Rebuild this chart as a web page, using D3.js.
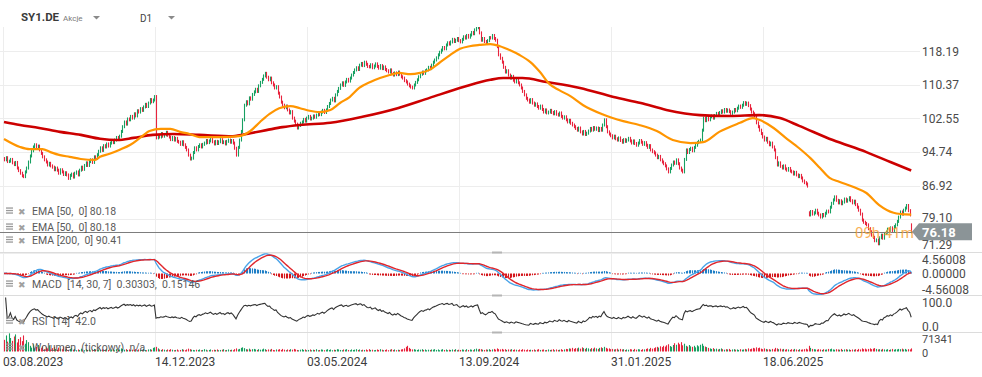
<!DOCTYPE html>
<html><head><meta charset="utf-8">
<script src="https://cdn.jsdelivr.net/npm/d3@7/dist/d3.min.js"></script>
<style>body{margin:0;background:#fff}svg{display:block;font-family:Roboto,"Liberation Sans",sans-serif}text{white-space:pre}</style>
</head><body><svg id="c" width="982" height="377"></svg>
<script>
// ---- DATA ----
const closes = [
92.9,93.4,92.5, 92.6,93.0, 92.2,91.8,92.3, 91.0,90.4,89.8, 89.2,89.0, 90.1,91.0, 92.4,93.8,95.0,
95.9,96.4,95.8, 96.1,95.2,94.4, 93.6,92.9,92.4, 91.7,92.1,91.5, 91.2,90.6,91.0, 90.5,89.8,90.6,
90.1,89.5,89.9, 89.4,88.6,89.3, 89.6,88.9,89.8, 90.1,89.4,90.5, 91.2,90.7,91.6, 92.2,91.6,92.5,
92.9,92.3,93.6, 93.3,94.1,94.9, 95.7,95.1,96.2, 95.9,96.6,96.1, 96.8,97.3,96.9, 97.5,98.1,97.7,
98.4,99.5,100.6, 101.7,101.2,102.4, 102.2,103.0,102.6, 103.6,103.1,104.3, 104.0,104.8,104.4,
105.2,105.8,105.3, 106.1,106.9,106.4, 106.8,107.6, 98.0,98.6, 98.2,99.0,98.4, 98.7,99.3,98.6,
98.2,97.6,98.1, 97.5,97.9,97.2, 97.0,96.5,97.1, 96.4,95.8,95.2, 94.0,93.1,93.3, 94.6,95.7,
95.2,96.0,96.4, 95.9,96.5,96.8, 97.4,96.9,97.3, 97.8,97.1,96.6, 97.2,96.7,97.1, 97.6,96.9,97.1,
96.6,97.2,97.5, 97.0,97.4,96.8, 95.6,94.0, 95.8,97.5,99.5, 102.2,105.6, 106.4,105.9,107.3,
107.0,108.1,108.7, 109.3,108.8,110.1, 110.9,111.6,112.4, 113.0,112.1,111.5, 111.9,110.8,110.3,
109.6,109.9,108.4, 107.5,106.3,105.6, 105.0,105.4,104.5, 103.8,104.1,102.6, 101.9,101.2,100.3,
100.9,101.4,101.7, 102.3,101.9,102.6, 103.0,102.4,102.6, 103.1,102.8,103.3, 103.8,103.4,104.0,
104.4,103.9,104.5, 105.3,106.0,106.8, 107.2,106.6,108.0, 108.8,109.5,110.3, 110.8,110.2,111.0,
111.6,111.2,111.9, 112.6,113.2,113.8, 114.3,113.9,114.9, 115.3,114.8,115.6, 115.1,114.6,114.5,
115.0,114.3,114.7, 115.2,114.6,114.2, 114.8,114.1,114.5, 113.9,113.6,113.3, 113.8,113.0,112.6,
113.1,112.7,113.3, 112.8,112.2,111.9, 111.3,111.0,110.5, 110.1,109.8,109.6, 110.3,110.9,111.5,
112.2,112.8,113.3, 113.0,113.6,113.8, 114.4,114.1,114.9, 115.6,116.1,116.6, 117.3,117.9,118.4,
119.0,118.7,119.6, 120.1,119.8,120.3, 120.9,120.4,120.7, 121.1,120.6,120.3, 120.9,121.5,121.2,
121.8,121.4,121.9, 122.5,122.2,123.1, 123.6,123.8,122.4, 120.7,121.1,120.4, 120.0,120.6,121.3,
121.2,121.8,121.1, 120.7,119.2, 117.3,116.5,115.6, 114.4,113.3,113.6, 112.6,111.9,112.3,
111.4,111.0,111.5, 110.8,110.3,109.6, 108.8,108.0,107.2, 106.8,106.3,106.9, 106.1,105.6,105.9,
105.3,104.9,105.4, 104.6,104.0,104.5, 103.8,104.0,104.4, 103.9,103.6,104.1, 103.5,103.3,103.8,
103.0,102.6,102.9, 102.2,101.7,102.1, 101.4,101.0,100.6, 100.2,99.8,100.3, 99.4,98.9,99.5,
98.8,99.1,99.6, 100.2,99.8,100.4, 100.0,100.3,99.7, 100.2,99.8,101.0, 102.2,100.6,99.4,
98.9,98.5,98.0, 98.4,97.8,97.5, 98.0,97.4,97.0, 97.6,97.2,97.5, 97.9,97.3,96.8, 97.3,96.7,96.3,
96.8,97.4,97.0, 96.5,96.9,96.3, 95.8,96.2,95.2, 94.8,94.5,94.0, 93.4,93.7,92.9, 92.4,92.0,91.5,
90.8,90.1,90.9, 91.7,92.4,92.1, 92.9,92.0,91.0, 90.5,90.1,93.0, 95.2,94.6,95.3, 95.6,95.0,95.8,
96.3,96.9,97.2, 97.5,99.8, 102.6,102.0,102.8, 102.2,102.9,103.1, 102.6,103.2,103.7,
103.3,103.9,104.3, 104.0,104.6,104.2, 104.5,104.1,103.7, 104.0,104.6,104.3, 104.9,105.4,105.1,
105.6,106.2,105.8, 106.1,105.5,104.7, 104.0,103.6,103.1, 101.5,100.6, 99.8,99.0,98.2,
97.5,97.9,97.0, 96.4,96.8,95.9, 95.2,93.4, 91.7,92.2,91.4, 91.0,91.5,90.8, 90.5,90.9,90.3,
90.1,89.6,90.0, 89.4,89.0,89.3, 88.7,88.0,87.6, 87.3,86.8, 80.1,80.9,80.3, 80.6,81.2,80.5,
80.1,79.6,80.2, 79.9,80.5,81.0, 80.8,81.9,82.8, 83.6,84.3,83.5, 82.9,83.4,82.7, 83.1,83.8,83.3,
83.6,84.1,83.4, 82.9,83.3,82.5, 81.9,81.2,80.3, 78.9,78.4,78.1, 77.8,76.9,76.2, 75.4,74.9,74.1,
74.3,73.4,74.8, 75.4,74.7,75.8, 76.1,76.8,76.4, 77.1,76.5,77.4, 77.8,78.6,79.6, 80.8,80.3,81.2,
81.7,82.3,81.1, 80.1,76.18
];
// opens that differ from the previous close (price gaps)
const gapOpenIdx = [503, 567];
const gapOpenVal = [80.6, 77.8];
// tick volume, thousands
const volumes = [
45,62,38,70,52,41,58,66,35,48, 55,40,62,30,44,36,22,15,28,12, 18,25,10,14,20,9,16,12,24,8,
13,18,10,7,15,11,9,20,8,12, 6,10,14,7,9,5,8,6,11,7, 5,9,6,8,4,7,10,6,5,8,
6,9,5,7,11,6,4,8,7,5, 9,6,8,12,10,7,9,6,8,5, 7,6,9,5,8,6,7,10,6,5,
8,9,7,14,16,18,12,8,6,9, 7,5,8,6,9,7,5,6,8,4, 6,9,7,5,8,11,9,7,6,5,
7,6,8,5,6,9,7,4,6,8, 5,7,6,8,5,6,7,9,5,6, 8,6,7,5,9,12,8,10,14,16,
13,9,8,11,7,9,10,8,6,9, 7,8,11,9,6,8,7,10,6,5, 8,7,9,6,10,7,5,8,6,9,
7,10,8,6,5,7,9,6,8,5, 6,8,5,7,6,9,5,6,8,7, 5,7,9,6,8,5,7,6,9,8,
6,5,8,7,9,6,5,8,6,7, 9,6,8,5,7,6,8,5,9,6, 7,5,6,8,6,9,7,5,6,8,
5,7,9,6,8,5,7,6,8,9, 12,18,22,14,10,8,9,7,6,8, 7,9,6,8,5,7,6,8,7,9,
6,8,5,7,9,6,8,5,7,6, 8,6,9,5,7,6,8,7,5,9, 6,8,7,5,9,11,8,10,9,7,
6,8,7,9,6,8,10,7,12,9, 8,10,7,9,6,8,7,9,6,8, 7,5,8,6,9,7,5,8,6,7,
6,8,5,7,9,6,7,8,5,6, 8,6,7,9,5,8,6,7,9,6, 8,10,9,12,11,14,10,13,12,15,
11,16,13,10,14,12,9,13,11,15, 12,10,14,16,13,18,14,11,12,9, 10,8,9,11,7,10,8,9,6,8,
7,9,8,6,10,7,9,8,6,9, 8,10,12,9,14,11,13,16,18,15, 20,17,22,19,24,28,21,18,25,32,
26,34,28,36,24,30,22,19,25,20, 18,22,16,24,20,26,30,22,19,17, 14,12,10,13,9,11,8,10,12,9,
7,9,8,10,6,8,9,7,8,6, 9,7,8,10,8,12,9,11,14,12, 16,13,15,11,9,12,10,8,9,7,
10,8,14,12,9,11,8,10,7,9, 8,6,9,7,10,8,6,9,7,8, 9,11,8,22,14,10,9,8,7,9,
8,6,9,7,8,10,9,11,8,7, 9,8,7,10,6,8,9,7,8,6, 8,7,9,6,10,8,12,9,11,8,
10,12,9,11,13,10,8,9,7,10, 8,7,9,6,8,10,7,9,8,10, 9,11,8,10,7,9,8,12
];
const ema50Idx = [0,10,16,24,29,35,41,48,57,60,66,72,79,85,91,98,104,110,116,122,135,147,154,160,166,172,179,185,191,197,204,210,216,222,229,235,241,247,254,260,266,272,279,285,291,297,304,310,316,322,329,335,341,347,354,362,374,387,397,408,418,429,437,447,460,468,472,481,488,497,504,510,516,522,531,539,547,556,561,567];
const ema50Val = [97.75,95.9,95.4,95.4,94.7,94.0,93.6,93.1,92.9,93.6,94.3,95.2,96.4,98.0,99.6,100.1,100.1,99.4,98.9,98.2,98.2,98.4,99.6,101.7,103.6,104.9,105.4,104.9,104.3,104.0,104.5,106.1,107.5,109.6,111.0,111.9,112.6,113.1,112.8,113.1,113.8,115.4,117.3,118.7,119.3,119.6,119.8,119.3,118.4,117.3,115.6,113.3,110.5,109.1,107.7,105.6,103.5,101.9,101.0,99.6,97.5,96.8,97.0,99.4,101.5,102.6,102.2,100.3,98.2,95.6,93.3,91.0,88.7,87.8,86.6,85.2,82.4,80.6,80.3,80.18];
const ema200Idx = [0,10,22,35,48,60,71,81,93,106,122,143,154,164,174,185,204,224,246,266,287,304,312,324,339,360,381,398,414,435,454,472,485,497,518,539,554,567];
const ema200Val = [101.7,101.0,100.3,99.4,98.7,97.8,97.5,98.0,98.7,98.9,98.7,98.4,99.1,99.8,100.5,101.0,101.5,102.9,104.9,107.3,109.8,111.5,111.9,111.9,111.0,109.6,107.5,106.1,104.5,103.3,103.1,103.3,102.6,100.8,97.5,94.7,92.4,90.41];
const dateTickIdx = [0,95,190,285,380,475];
const dateTickLabels = ["03.08.2023","14.12.2023","03.05.2024","13.09.2024","31.01.2025","18.06.2025"];
const priceTicks = [118.19,110.37,102.55,94.74,86.92,79.10,71.29];
const macdTicks = [4.56008,0,-4.56008];
const rsiTicks = [100,0];
const volMax = 71341;
const lastPrice = 76.18;
const legendEMA = ["EMA [50,  0] 80.18","EMA [50,  0] 80.18","EMA [200,  0] 90.41"];
const legendMACD = "MACD  [14, 30, 7]  0.30303,  0.15146";
const legendRSI = "RSI  [14]  42.0";
const legendVol = "Wolumen  (tickowy)  n/a";

// ---- CHART ----
const svg = d3.select("#c");
const N = closes.length;
const GREEN = "#17a062", RED = "#e8243d";
const x = d3.scaleLinear().domain([0, 567]).range([4, 911.2]);
const y = d3.scaleLinear().domain([118.19, 71.29]).range([51, 252.86]);
const yM = d3.scaleLinear().domain([4.56008, -4.56008]).range([249.8, 297.2]);
const yR = d3.scaleLinear().domain([100, 0]).range([297.5, 330]);
const yV = d3.scaleLinear().domain([0, volMax]).range([351.5, 333]);

const opens = closes.map((c, i) => i ? closes[i-1] : c + 0.3);
gapOpenIdx.forEach((k,j)=>{ if(k<N) opens[k]=gapOpenVal[j]; });
const px = i => Math.round(x(i)) + 0.5;

const defs = svg.append("defs");
defs.append("clipPath").attr("id","cp").append("rect").attr("x",0).attr("y",27).attr("width",916).attr("height",225);
defs.append("clipPath").attr("id","cm").append("rect").attr("x",0).attr("y",253).attr("width",916).attr("height",42);
defs.append("clipPath").attr("id","cr").append("rect").attr("x",0).attr("y",296).attr("width",916).attr("height",36);

// grid
const grid = svg.append("g");
grid.selectAll("line.h").data(priceTicks).join("line")
  .attr("x1",0).attr("x2",920).attr("y1",d=>Math.round(y(d))+0.5).attr("y2",d=>Math.round(y(d))+0.5)
  .attr("stroke","#ededed");
grid.selectAll("line.v").data(dateTickIdx).join("line")
  .attr("x1",d=>Math.round(x(d))-0.5).attr("x2",d=>Math.round(x(d))-0.5).attr("y1",27).attr("y2",352)
  .attr("stroke","#ededed");
// panel separators
[252.5,295.5,332.5].forEach(v=>{
  svg.append("line").attr("x1",0).attr("x2",982).attr("y1",v).attr("y2",v).attr("stroke","#dcdcdc");
  svg.append("rect").attr("x",492).attr("y",v-1).attr("width",10).attr("height",2).attr("fill","#b5b5b5");
});

// candles
const pg = svg.append("g").attr("clip-path","url(#cp)");
pg.selectAll("line.c").data(closes).join("line")
  .attr("x1",(d,i)=>px(i)).attr("x2",(d,i)=>px(i))
  .attr("y1",(d,i)=>Math.min(y(opens[i]),y(d))-1.5)
  .attr("y2",(d,i)=>Math.max(y(opens[i]),y(d))+1.5)
  .attr("stroke",(d,i)=>d>=opens[i]?GREEN:RED).attr("stroke-width",1.1);

const lineGen = d3.line().x(d=>x(d[0])).y(d=>y(d[1])).curve(d3.curveMonotoneX);
pg.append("path").datum(ema200Idx.map((k,j)=>[k,ema200Val[j]])).attr("d",lineGen)
  .attr("fill","none").attr("stroke","#cc0000").attr("stroke-width",2.6);
pg.append("path").datum(ema50Idx.map((k,j)=>[k,ema50Val[j]])).attr("d",lineGen)
  .attr("fill","none").attr("stroke","#ff9500").attr("stroke-width",2.2);

// last price line + countdown
const yl = y(lastPrice);
svg.append("line").attr("x1",0).attr("x2",914).attr("y1",Math.round(yl)+0.5).attr("y2",Math.round(yl)+0.5)
  .attr("stroke","#7d7d7d").attr("stroke-width",1);
svg.append("text").attr("x",855).attr("y",yl+6.5).attr("font-size",15).attr("fill","#f7a030").attr("opacity",0.8).text("09h 41m");

// price axis
const priceLabelY = d => d===79.10 ? y(d)+2.5 : Math.min(y(d),244.5)+4.5;
svg.selectAll("text.pt").data(priceTicks).join("text")
  .attr("x",922).attr("y",priceLabelY).attr("font-size",12).attr("fill","#4a4a4a").text(d=>d.toFixed(2));
svg.append("path").attr("d",`M912,${yl} L919,${yl-8.5} L972,${yl-8.5} L972,${yl+8.5} L919,${yl+8.5} Z`).attr("fill","#8b9497");
svg.append("text").attr("x",922).attr("y",yl+4.8).attr("font-size",13).attr("font-weight","bold").attr("fill","#fff").text(lastPrice.toFixed(2));

// MACD
function ema(arr,n){const a=2/(n+1);const out=[];let e=arr[0];arr.forEach((v,i)=>{e=i?a*v+(1-a)*e:v;out.push(e);});return out;}
const e14=ema(closes,14), e30=ema(closes,30);
const macd=e14.map((v,i)=>v-e30[i]);
const sig=ema(macd,7);
const hist=macd.map((v,i)=>v-sig[i]);
const mg=svg.append("g").attr("clip-path","url(#cm)");
mg.selectAll("line.h").data(hist).join("line")
  .attr("x1",(d,i)=>px(i)).attr("x2",(d,i)=>px(i))
  .attr("y1",yM(0)).attr("y2",d=>yM(d)+(d>=0?-0.6:0.6))
  .attr("stroke",d=>d>=0?"#1f7fc6":"#d4161c").attr("stroke-width",1.1);
const ml=d3.line().x((d,i)=>x(i)).y(d=>yM(d));
mg.append("path").datum(macd).attr("d",ml).attr("fill","none").attr("stroke","#49a3e8").attr("stroke-width",1.4);
mg.append("path").datum(sig).attr("d",ml).attr("fill","none").attr("stroke","#e0262c").attr("stroke-width",1.4);
svg.selectAll("text.mt").data(macdTicks).join("text")
  .attr("x",922).attr("y",(d,i)=>[264,278,294][i]).attr("font-size",12).attr("fill","#4a4a4a").text(d=>d.toFixed(5));

// RSI
const rsi=[null];let ag=0,al=0;
for(let i=1;i<N;i++){const ch=closes[i]-closes[i-1];const g=Math.max(ch,0),l=Math.max(-ch,0);const n=Math.min(i,14);ag=ag+(g-ag)/n;al=al+(l-al)/n;rsi.push(al===0?100:100-100/(1+ag/al));}
const rg=svg.append("g").attr("clip-path","url(#cr)");
rg.append("path").datum(rsi.map((v,i)=>[i,v]).slice(1)).attr("d",d3.line().x(d=>x(d[0])).y(d=>yR(d[1])))
  .attr("fill","none").attr("stroke","#333").attr("stroke-width",1.1);
svg.selectAll("text.rt").data(rsiTicks).join("text")
  .attr("x",922).attr("y",(d,i)=>[307,331][i]).attr("font-size",12).attr("fill","#4a4a4a").text(d=>d.toFixed(1));

// Volume
svg.append("g").selectAll("line").data(volumes).join("line")
  .attr("x1",(d,i)=>px(i)).attr("x2",(d,i)=>px(i))
  .attr("y1",yV(0)).attr("y2",d=>yV(d*1000))
  .attr("stroke",(d,i)=>closes[i]>=opens[i]?GREEN:RED).attr("stroke-width",1.1);
svg.append("text").attr("x",922).attr("y",342.5).attr("font-size",11).attr("fill","#4a4a4a").text(volMax);
svg.append("text").attr("x",922).attr("y",357).attr("font-size",11).attr("fill","#4a4a4a").text("0");

// date axis
svg.selectAll("text.dt").data(dateTickIdx).join("text")
  .attr("x",d=>x(d)-1).attr("y",366).attr("font-size",12).attr("fill","#3c3c3c")
  .text((d,i)=>dateTickLabels[i]);

// legends
function legend(yc, label){
  const g=svg.append("g");
  [-3,-0.5,2].forEach(o=>g.append("rect").attr("x",6).attr("y",yc+o-0.6).attr("width",7).attr("height",1.3).attr("fill","#9a9a9a"));
  g.append("text").attr("x",18).attr("y",yc+3.5).attr("font-family","DejaVu Sans").attr("font-size",9).attr("fill","#a0a0a0").text("\u2716");
  g.append("text").attr("x",32).attr("y",yc+3.8).attr("font-size",10.5).attr("fill","#5a5a5a").text(label);
}
legend(211,legendEMA[0]);legend(227,legendEMA[1]);legend(240,legendEMA[2]);
legend(284,legendMACD);legend(321,legendRSI);legend(347,legendVol);

// header
svg.append("text").attr("x",21).attr("y",21).attr("font-size",11.5).attr("font-weight","bold").attr("fill","#3a3a3a").text("SY1.DE");
svg.append("text").attr("x",63).attr("y",21).attr("font-size",8).attr("fill","#7a7a7a").text("Akcje");
svg.append("path").attr("d","M93,16 L100,16 L96.5,19.5 Z").attr("fill","#8a8a8a");
svg.append("text").attr("x",140).attr("y",22).attr("font-size",10).attr("fill","#444").text("D1");
svg.append("path").attr("d","M168,16 L175,16 L171.5,19.5 Z").attr("fill","#8a8a8a");
</script></body></html>
